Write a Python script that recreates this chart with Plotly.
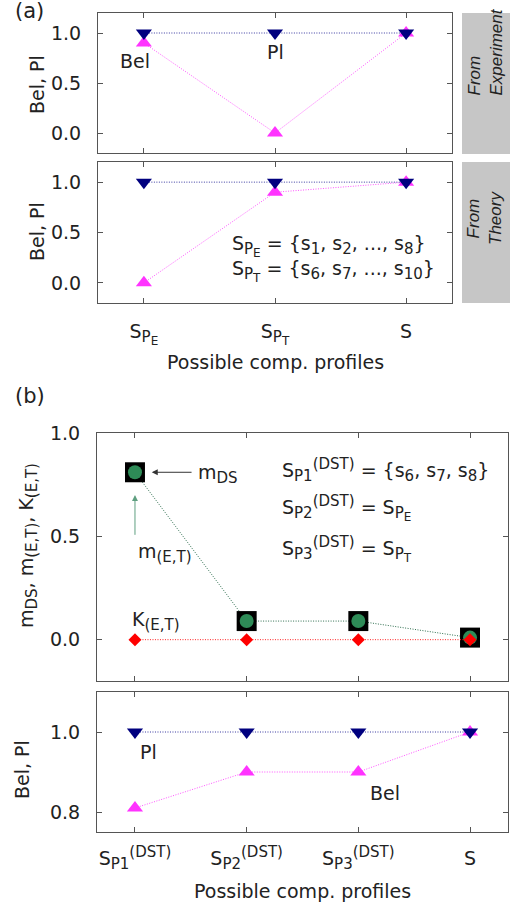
import plotly.graph_objects as go

# ---------------- data ----------------
cats_a = [1, 2, 3]
exp_pl = [1.0, 1.0, 1.0]
exp_bel = [0.9, 0.0, 1.0]
th_pl = [1.0, 1.0, 1.0]
th_bel = [0.0, 0.9, 1.0]

cats_b = [1, 2, 3, 4]
m_ds = [0.81, 0.09, 0.09, 0.01]
k_et = [0.0, 0.0, 0.0, 0.0]
b_pl = [1.0, 1.0, 1.0, 1.0]
b_bel = [0.81, 0.9, 0.9, 1.0]

yt_a = [0, 0.5, 1.0]
yt_a_text = ["0.0", "0.5", "1.0"]
yt_b3 = [0, 0.5, 1.0]
yt_b3_text = ["0.0", "0.5", "1.0"]
yt_b4 = [0.8, 1.0]
yt_b4_text = ["0.8", "1.0"]

# ---------------- style ----------------
W, H = 525, 909
FONT = "DejaVu Sans"
SIDE_FONT = "Liberation Sans Narrow, Liberation Sans"
FS = 19
SFS = 15  # sub/superscript size
NAVY = "#00007f"
MAG = "#ff33ff"
GREEN = "#2e8b57"
RED = "#ff0000"
AX = "#555555"
DOT = "1px,1.5px"


def sub(s):
    return f"<sub><span style='font-size:{SFS}px'>{s}</span></sub>"


def sup(s):
    return f"<sup><span style='font-size:{SFS}px'>{s}</span></sup>"


S_PE = "S<sub><span style='font-size:15px'>P<sub><span style='font-size:12px'>E</span></sub></span></sub>"
S_PT = "S<sub><span style='font-size:15px'>P<sub><span style='font-size:12px'>T</span></sub></span></sub>"

cats_a_text = [S_PE, S_PT, "S"]
cats_b_text = ["S" + sub("P1") + sup("(DST)"), "S" + sub("P2") + sup("(DST)"),
               "S" + sub("P3") + sup("(DST)"), "S"]


def px(x):
    return x / W


def py(y):
    return 1 - y / H


fig = go.Figure()


def line_trace(x, y, xa, ya, color, lcolor, symbol, size):
    fig.add_trace(go.Scatter(x=x, y=y, xaxis=xa, yaxis=ya, mode="lines+markers",
                             line=dict(color=lcolor, width=1, dash=DOT),
                             marker=dict(symbol=symbol, size=size, color=color, line=dict(width=0)),
                             showlegend=False, hoverinfo="skip"))


TRI = 14
# panel 1
line_trace(cats_a, exp_bel, "x", "y", MAG, "#ff55ff", "triangle-up", TRI)
line_trace(cats_a, exp_pl, "x", "y", NAVY, "#3a3aa0", "triangle-down", TRI)
# panel 2
line_trace(cats_a, th_bel, "x2", "y2", MAG, "#ff55ff", "triangle-up", TRI)
line_trace(cats_a, th_pl, "x2", "y2", NAVY, "#3a3aa0", "triangle-down", TRI)
# panel 3
line_trace(cats_b, m_ds, "x3", "y3", "black", "#2f6f4f", "square", 20)
fig.add_trace(go.Scatter(x=cats_b, y=m_ds, xaxis="x3", yaxis="y3", mode="markers",
                         marker=dict(symbol="circle", size=14, color=GREEN, line=dict(width=0)),
                         showlegend=False, hoverinfo="skip"))
line_trace(cats_b, k_et, "x3", "y3", RED, "#ff2222", "diamond", 10)
# panel 4
line_trace(cats_b, b_bel, "x4", "y4", MAG, "#ff55ff", "triangle-up", TRI)
line_trace(cats_b, b_pl, "x4", "y4", NAVY, "#3a3aa0", "triangle-down", TRI)

common = dict(showline=True, linecolor=AX, linewidth=1, mirror="ticks", ticks="inside",
              ticklen=5, tickcolor=AX, showgrid=False, zeroline=False, automargin=False,
              tickfont=dict(family=FONT, size=FS, color="#222"))

xa_dom = [px(98), px(452)]
xb_dom = [px(97), px(508)]

fig.update_layout(
    width=W, height=H, margin=dict(l=0, r=0, t=0, b=0, pad=0),
    paper_bgcolor="white", plot_bgcolor="white",
    font=dict(family=FONT, size=FS, color="#222"),
    xaxis=dict(domain=xa_dom, anchor="y", range=[0.65, 3.35], tickvals=cats_a,
               showticklabels=False, **common),
    yaxis=dict(domain=[py(153), py(13)], anchor="x", range=[-0.2, 1.2], tickvals=yt_a,
               ticktext=yt_a_text, ticklabelstandoff=12, **common),
    xaxis2=dict(domain=xa_dom, anchor="y2", range=[0.65, 3.35], tickvals=cats_a,
                ticktext=cats_a_text, ticklabelstandoff=11, **common),
    yaxis2=dict(domain=[py(303), py(162)], anchor="x2", range=[-0.2, 1.2], tickvals=yt_a,
                ticktext=yt_a_text, ticklabelstandoff=12, **common),
    xaxis3=dict(domain=xb_dom, anchor="y3", range=[0.66, 4.34], tickvals=cats_b,
                showticklabels=False, **common),
    yaxis3=dict(domain=[py(681), py(433)], anchor="x3", range=[-0.2, 1.0], tickvals=yt_b3,
                ticktext=yt_b3_text, ticklabelstandoff=12, **common),
    xaxis4=dict(domain=xb_dom, anchor="y4", range=[0.66, 4.34], tickvals=cats_b,
                ticktext=cats_b_text, ticklabelstandoff=9, **common),
    yaxis4=dict(domain=[py(832), py(692)], anchor="x4", range=[0.75, 1.1], tickvals=yt_b4,
                ticktext=yt_b4_text, ticklabelstandoff=12, **common),
)

# gray side boxes
fig.add_shape(type="rect", xref="paper", yref="paper", x0=px(462), x1=px(510),
              y0=py(154), y1=py(13), fillcolor="#c6c6c6", line=dict(width=0), layer="below")
fig.add_shape(type="rect", xref="paper", yref="paper", x0=px(462), x1=px(510),
              y0=py(303), y1=py(162), fillcolor="#c6c6c6", line=dict(width=0), layer="below")

ann = []


def txt(text, x, y, xref="paper", yref="paper", size=FS, family=FONT, **kw):
    d = dict(text=text, x=x, y=y, xref=xref, yref=yref, showarrow=False,
             font=dict(family=family, size=size, color=kw.pop("color", "#222")))
    d.update(kw)
    ann.append(d)


# panel labels
txt("(a)", px(13), py(-3), xanchor="left", yanchor="top", size=21)
txt("(b)", px(13), py(396), xanchor="left", yanchor="middle", size=21)

# side box text
txt("<i>From<br>Experiment</i>", px(485), py(98), textangle=-90, align="left",
    xanchor="center", yanchor="bottom", size=17, family=SIDE_FONT)
txt("<i>From<br>Theory</i>", px(485), py(218), textangle=-90, align="center",
    xanchor="center", yanchor="middle", size=17, family=SIDE_FONT)

# axis titles
txt("Bel, Pl", px(37), py(85), textangle=-90, xanchor="center", yanchor="middle")
txt("Bel, Pl", px(37), py(232), textangle=-90, xanchor="center", yanchor="middle")
txt("m" + sub("DS") + ", m" + sub("(E,T)") + ", K" + sub("(E,T)"), px(28), py(546),
    textangle=-90, xanchor="center", yanchor="middle")
txt("Bel, Pl", px(22), py(770), textangle=-90, xanchor="center", yanchor="middle")
txt("Possible comp. profiles", px(275), py(362), xanchor="center", yanchor="middle")
txt("Possible comp. profiles", px(302), py(891), xanchor="center", yanchor="middle")

# in-plot labels panel 1/2
txt("Bel", 0.93, 0.72, "x", "y", xanchor="center", yanchor="middle")
txt("Pl", 2.0, 0.81, "x", "y", xanchor="center", yanchor="middle")
txt(S_PE + " = {s" + sub("1") + ", s" + sub("2") + ", ..., s" + sub("8") + "}",
    1.66, 0.37, "x2", "y2", xanchor="left", yanchor="middle")
txt(S_PT + " = {s" + sub("6") + ", s" + sub("7") + ", ..., s" + sub("10") + "}",
    1.66, 0.12, "x2", "y2", xanchor="left", yanchor="middle")

# panel 3 labels
txt("S" + sub("P1") + sup("(DST)") + " = {s" + sub("6") + ", s" + sub("7") + ", s" + sub("8") + "}",
    2.30, 0.82, "x3", "y3", xanchor="left", yanchor="middle")
txt("S" + sub("P2") + sup("(DST)") + " = " + S_PE,
    2.30, 0.635, "x3", "y3", xanchor="left", yanchor="middle")
txt("S" + sub("P3") + sup("(DST)") + " = " + S_PT,
    2.30, 0.44, "x3", "y3", xanchor="left", yanchor="middle")
txt("m" + sub("DS"), 1.55, 0.80, "x3", "y3", xanchor="left", yanchor="middle")
txt("m" + sub("(E,T)"), 1.01, 0.42, "x3", "y3", xanchor="left", yanchor="middle")
txt("K" + sub("(E,T)"), 0.955, 0.09, "x3", "y3", xanchor="left", yanchor="middle")

# arrows
ann.append(dict(x=1.15, y=0.81, ax=1.52, ay=0.81, xref="x3", yref="y3", axref="x3", ayref="y3",
                text="", showarrow=True, arrowhead=2, arrowsize=1.2, arrowwidth=1,
                arrowcolor="#333"))
ann.append(dict(x=1.0, y=0.70, ax=1.0, ay=0.50, xref="x3", yref="y3", axref="x3", ayref="y3",
                text="", showarrow=True, arrowhead=2, arrowsize=1.2, arrowwidth=1,
                arrowcolor="#5f9f80"))

# panel 4 labels
txt("Pl", 1.125, 0.95, "x4", "y4", xanchor="center", yanchor="middle")
txt("Bel", 3.24, 0.8475, "x4", "y4", xanchor="center", yanchor="middle")

fig.update_layout(annotations=ann)
# remove the browser's default 8px body margin so the figure fills the window exactly
fig.write_html("out.html", config={"displayModeBar": False},
               post_script="document.body.style.margin='0px';")
